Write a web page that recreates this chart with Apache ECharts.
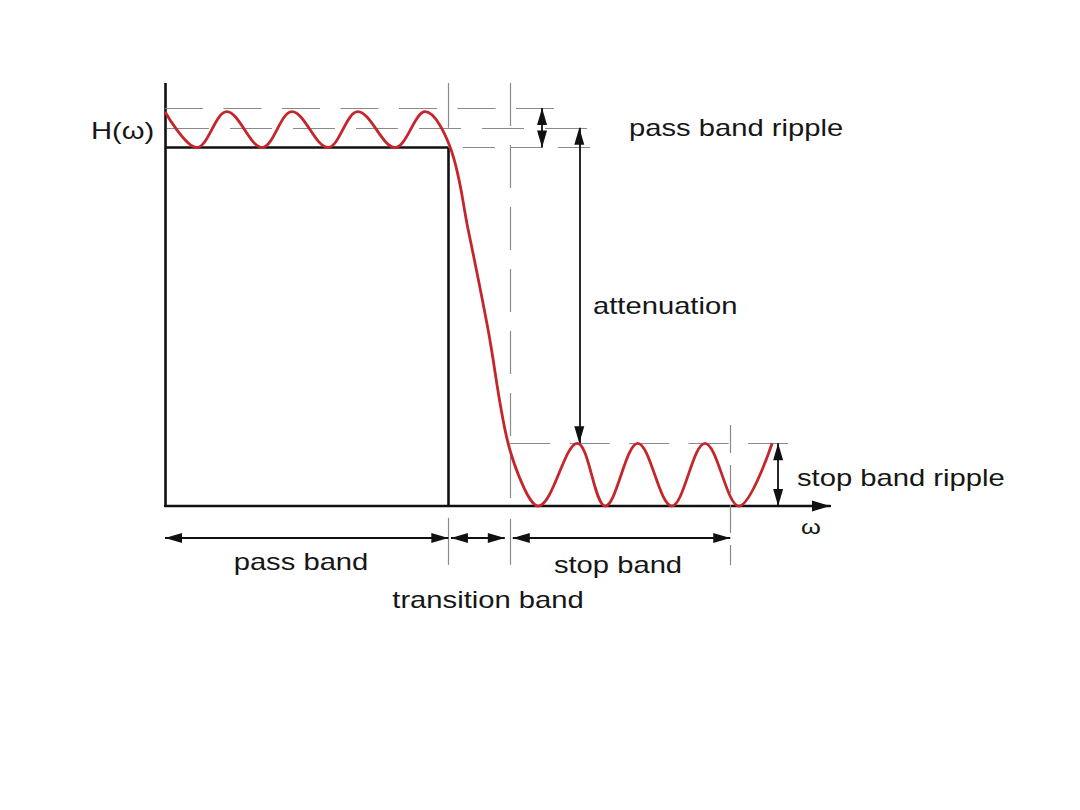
<!DOCTYPE html>
<html>
<head>
<meta charset="utf-8">
<script src="https://cdn.jsdelivr.net/npm/echarts@6/dist/echarts.min.js"></script>
<style>
html,body{margin:0;padding:0;background:#ffffff;}
#chart{width:1080px;height:810px;}
</style>
</head>
<body>
<div id="chart"></div>
<script>
// ---- data (ω in arbitrary units, H(ω) normalised to pass level = 1) ----
const omega = [0, 0.48, 0.93, 1.46, 1.91, 2.45, 2.90, 3.46, 3.91, 4.29, 4.56, 4.86, 5.14, 5.40, 5.61, 6.20, 6.62, 7.11, 7.62, 8.12, 8.63, 9.13];
const gain  = [1.10, 1.00, 1.10, 1.00, 1.10, 1.00, 1.10, 1.00, 1.10, 1.00, 0.77, 0.49, 0.19, 0.05, 0.00, 0.175, 0.00, 0.175, 0.00, 0.175, 0.00, 0.175];

// band edges: pass-band edge, stop-band edge, end of marked stop band
const bandEdges = [4.26, 5.19, 8.50];
const bandNames = ['pass band', 'transition band', 'stop band'];

// levels: ripple top, ripple middle, pass level, stop-band ripple top
const levels = [1.11, 1.055, 1.00, 0.175];
const axisRange = { xMin: 0, xMax: 10, yMin: -0.3, yMax: 1.18 };

// text annotations
const annotTexts = ['H(ω)', 'pass band ripple', 'attenuation', 'stop band ripple', 'ω'];

// ---- layout / annotation placement (data coordinates) ----
const [passEdge, stopEdge, stopEnd] = bandEdges;
const [rippleTop, rippleMid, passLevel, stopLevel] = levels;
const arrowRowY = -0.089;
const passRippleX = 5.67, attenX = 6.23, stopRippleX = 9.22;

const chart = echarts.init(document.getElementById('chart'), null, { renderer: 'svg' });

const INK = '#111111';
const GRAY = '#8a8a8a';
const RED = '#c4262b';

function seg(x1, y1, x2, y2, extra) {
  const a = Object.assign({ coord: [x1, y1] }, extra || {});
  return [a, { coord: [x2, y2] }];
}

const textFont = '23px "Liberation Sans", Arial, sans-serif';
function label(text, x, y, align, size) {
  return {
    type: 'text', x: x, y: y, scaleX: 1.27, scaleY: 1, z: 20,
    style: { text: text, font: (size ? size + 'px "Liberation Sans", Arial, sans-serif' : textFont), fill: '#161616', textAlign: align, textVerticalAlign: 'middle' }
  };
}

const pxPerY = 358.5;
const option = {
  backgroundColor: '#ffffff',
  animation: false,
  grid: { left: 165, top: 83, width: 665, height: (axisRange.yMax - axisRange.yMin) * pxPerY, containLabel: false },
  xAxis: {
    type: 'value', min: axisRange.xMin, max: axisRange.xMax,
    axisLine: { show: true, onZero: true, symbol: ['none', 'triangle'], symbolSize: [11, 18], symbolOffset: [0, -9], lineStyle: { color: INK, width: 2.4 } },
    axisTick: { show: false }, axisLabel: { show: false }, splitLine: { show: false }
  },
  yAxis: {
    type: 'value', min: axisRange.yMin, max: axisRange.yMax,
    axisLine: { show: false },
    axisTick: { show: false }, axisLabel: { show: false }, splitLine: { show: false }
  },
  series: [
    {
      name: 'H(ω)', type: 'line', z: 10, clip: false,
      data: omega.map((w, i) => [w, gain[i]]),
      smooth: 0.36, showSymbol: false, symbol: 'none', silent: true,
      lineStyle: { color: RED, width: 2.8 }
    },
    {
      name: 'ideal', type: 'line', data: [], z: 6, clip: false, silent: true,
      markLine: {
        silent: true, symbol: ['none', 'none'], label: { show: false },
        lineStyle: { color: INK, width: 2.6, type: 'solid' },
        emphasis: { disabled: true },
        data: [
          seg(0, 0, 0, axisRange.yMax),
          seg(0, passLevel, passEdge, passLevel),
          seg(passEdge, passLevel, passEdge, 0)
        ]
      }
    },
    {
      name: 'guides', type: 'line', data: [], z: 3, clip: false, silent: true,
      markLine: {
        silent: true, symbol: ['none', 'none'], label: { show: false },
        lineStyle: { color: GRAY, width: 1.2, type: 'solid' },
        emphasis: { disabled: true },
        data: [
          seg(passEdge, axisRange.yMax, passEdge, rippleMid),
          seg(passEdge, -0.033, passEdge, -0.164),
          seg(stopEdge, -0.036, stopEdge, -0.164),
          seg(0, rippleTop, 6.12, rippleTop, { lineStyle: { type: [38, 20.5], color: GRAY, width: 1.2 } }),
          seg(0.03, rippleMid, 6.35, rippleMid, { lineStyle: { type: [42, 21], color: GRAY, width: 1.2 } }),
          seg(4.48, passLevel, 6.39, passLevel, { lineStyle: { type: [32, 15.5], color: GRAY, width: 1.2 } }),
          seg(stopEdge, stopLevel, 9.37, stopLevel, { lineStyle: { type: [40, 19.5], color: GRAY, width: 1.2 } }),
          seg(stopEdge, axisRange.yMax, stopEdge, 0.02, { lineStyle: { type: [43, 19], color: GRAY, width: 1.2 } }),
          seg(stopEnd, 0.226, stopEnd, -0.165, { lineStyle: { type: [28, 12], color: GRAY, width: 1.2 } })
        ]
      }
    },
    {
      name: 'arrows', type: 'line', data: [], z: 8, clip: false, silent: true,
      markLine: {
        silent: true, symbol: ['triangle', 'triangle'], symbolSize: [10, 17], symbolOffset: [[0, 8.5], [0, 8.5]],
        label: { show: false },
        lineStyle: { color: INK, width: 1.8, type: 'solid' },
        emphasis: { disabled: true },
        data: [
          seg(0, arrowRowY, passEdge, arrowRowY),
          seg(4.30, arrowRowY, 5.11, arrowRowY),
          seg(5.23, arrowRowY, stopEnd, arrowRowY),
          seg(passRippleX, rippleTop, passRippleX, passLevel),
          seg(attenX, rippleMid, attenX, stopLevel),
          seg(stopRippleX, stopLevel, stopRippleX, 0)
        ]
      }
    }
  ],
  graphic: [
    label(annotTexts[0], 91, 131, 'left'),
    label(annotTexts[1], 629, 128, 'left'),
    label(annotTexts[2], 593, 306, 'left'),
    label(annotTexts[3], 797, 478, 'left'),
    label(annotTexts[4], 811, 527, 'center', 20),
    label(bandNames[0], 301, 562, 'center'),
    label(bandNames[2], 618, 565, 'center'),
    label(bandNames[1], 488, 600, 'center')
  ]
};
chart.setOption(option);
</script>
</body>
</html>
